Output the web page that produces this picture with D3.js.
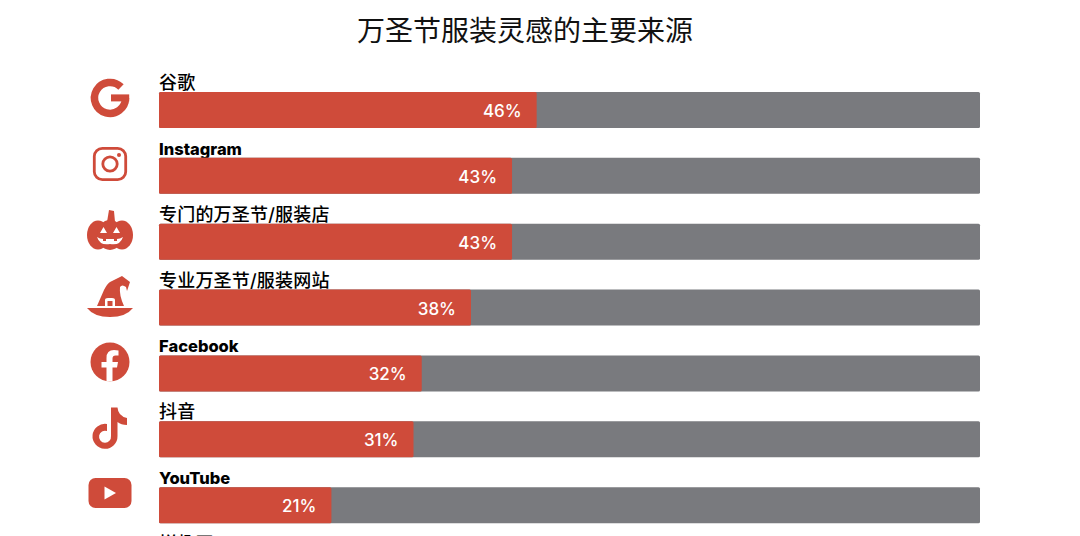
<!DOCTYPE html>
<html>
<head>
<meta charset="utf-8">
<script src="https://cdn.jsdelivr.net/npm/d3@7"></script>
<style>
  html, body { margin: 0; padding: 0; background: #fff; overflow: hidden; }
  svg { display: block; }
  text { font-family: Inter, "Noto Sans CJK SC", sans-serif; }
</style>
</head>
<body>
<svg id="chart" width="1080" height="536"></svg>
<script>
const title = '万圣节服装灵感的主要来源';
const categories = ['谷歌', 'Instagram', '专门的万圣节/服装店', '专业万圣节/服装网站', 'Facebook', '抖音', 'YouTube', '拼趣网'];
// the eighth row runs off the bottom of the picture, only the top of its label shows
const values = [46, 43, 43, 38, 32, 31, 21];
const icons = ['google', 'instagram', 'pumpkin', 'hat', 'facebook', 'tiktok', 'youtube'];

const red = '#cf4b3a';
const grey = '#797a7e';

const svg = d3.select('#chart');

const x = d3.scaleLinear().domain([0, 100]).range([159, 980]);
const y = d3.scaleBand().domain(categories).range([92, 589]).paddingInner(0.4534).paddingOuter(0);
const isCjk = d => /[\u4e00-\u9fff]/.test(d);

svg.append('text')
  .attr('x', 525).attr('y', 41)
  .attr('text-anchor', 'middle')
  .attr('font-family', '"Noto Sans CJK SC", sans-serif')
  .attr('font-size', 28)
  .attr('fill', '#111')
  .text(title);

svg.selectAll('text.label')
  .data(categories)
  .enter().append('text')
  .attr('class', 'label')
  .attr('x', x(0)).attr('y', d => y(d) - 3)
  .attr('font-family', d => isCjk(d) ? '"Noto Sans CJK SC", sans-serif' : 'Inter, sans-serif')
  .attr('font-size', d => isCjk(d) ? 18 : 16.5)
  .attr('font-weight', d => isCjk(d) ? 500 : 800)
  .attr('letter-spacing', d => isCjk(d) ? 0.2 : 0)
  .attr('fill', '#000')
  .text(d => d);

const bars = values.map((v, i) => ({ name: categories[i], value: v }));

svg.selectAll('rect.track')
  .data(bars)
  .enter().append('rect')
  .attr('class', 'track')
  .attr('x', x(0)).attr('y', d => y(d.name))
  .attr('width', x(100) - x(0)).attr('height', y.bandwidth())
  .attr('rx', 1.5)
  .attr('fill', grey);

svg.selectAll('rect.bar')
  .data(bars)
  .enter().append('rect')
  .attr('class', 'bar')
  .attr('x', x(0)).attr('y', d => y(d.name))
  .attr('width', d => x(d.value) - x(0)).attr('height', y.bandwidth())
  .attr('rx', 1.5)
  .attr('fill', red);

svg.selectAll('text.value')
  .data(bars)
  .enter().append('text')
  .attr('class', 'value')
  .attr('x', d => x(d.value) - 15)
  .attr('y', d => y(d.name) + y.bandwidth() / 2 + 7)
  .attr('text-anchor', 'end')
  .attr('font-size', 17)
  .attr('font-weight', 500)
  .attr('fill', '#fff')
  .text(d => d.value + '%');

// icons, each drawn around its own centre
const drawIcon = {
  google(g) {
    g.append('path').attr('fill', 'none').attr('stroke', red).attr('stroke-width', 7.5)
      .attr('d', 'M11 -11 A15.5 15.5 0 1 0 15.5 0');
    g.append('rect').attr('x', 1).attr('y', -3.6).attr('width', 18.2).attr('height', 7).attr('fill', red);
  },
  instagram(g) {
    g.append('rect').attr('x', -15.7).attr('y', -15.7).attr('width', 31.4).attr('height', 31.4).attr('rx', 8)
      .attr('fill', 'none').attr('stroke', red).attr('stroke-width', 2.8);
    g.append('circle').attr('r', 7.2).attr('fill', 'none').attr('stroke', red).attr('stroke-width', 2.8);
    g.append('circle').attr('cx', 9).attr('cy', -9).attr('r', 2).attr('fill', red);
  },
  pumpkin(g) {
    g.append('path').attr('fill', red).attr('d', 'M-3 -13 L-1 -25 L4 -24 L5 -13Z');
    g.append('ellipse').attr('cx', -12).attr('rx', 11).attr('ry', 14.5).attr('fill', red);
    g.append('ellipse').attr('cx', 12).attr('rx', 11).attr('ry', 14.5).attr('fill', red);
    g.append('ellipse').attr('rx', 13).attr('ry', 15).attr('fill', red);
    g.append('path').attr('fill', '#fff').attr('d', 'M-10 -2 L-6.5 -8 L-3 -2Z M3 -2 L6.5 -8 L10 -2Z');
    g.append('path').attr('fill', '#fff').attr('d', 'M-13 2 Q-10 4 -7 4 L-7 6 L-4 6 L-4 4 L4 4 L4 6 L7 6 L7 4 Q10 4 13 2 Q10 11 0 9 Q-10 11 -13 2Z');
  },
  hat(g) {
    g.append('path').attr('fill', red)
      .attr('d', 'M-13 9 L-6 -7 Q-3 -13 0 -15 L12 -21 L20 -15 L17 -6 L16 -10 Q12 -13 10 -10 Q9 -2 14 9Z');
    g.append('path').attr('fill', red).attr('d', 'M-23 11 L23 11 Q16 20 0 20 Q-16 20 -23 11Z');
    g.append('path').attr('fill', '#fff').attr('d', 'M-5 9 L-5 3 Q-5 1 -2 1 L2 1 Q5 1 5 3 L5 9 L2.5 9 L2.5 4 L-2.5 4 L-2.5 9Z');
  },
  facebook(g) {
    g.append('circle').attr('r', 19.5).attr('fill', red);
    g.append('path').attr('fill', '#fff')
      .attr('d', 'M-3.5 19.5 L-3.5 5.5 L-8.5 5.5 L-8.5 0 L-3.5 0 L-3.5 -4 Q-3.5 -12 4 -12 L8.5 -11.6 L8.5 -6.5 L5.5 -6.5 Q2.5 -6.5 2.5 -3.5 L2.5 0 L8 0 L7 5.5 L2.5 5.5 L2.5 19.5Z');
  },
  tiktok(g) {
    g.append('path').attr('fill', red)
      .attr('d', 'M1 -20.5 L7.5 -20.5 Q8 -12 17 -10 L17 -3 Q11 -3 7.5 -6 L7.5 8 A12.5 12.5 0 1 1 -3 -4 L-3 3 A6 6 0 1 0 1 8Z');
  },
  youtube(g) {
    g.append('rect').attr('x', -21.5).attr('y', -15).attr('width', 43).attr('height', 30).attr('rx', 7).attr('fill', red);
    g.append('path').attr('fill', '#fff').attr('d', 'M-5.5 -6.5 L6 0 L-5.5 6.5Z');
  }
};

const iconCenters = [[110, 98], [110, 164], [110, 235], [110, 297], [110, 362], [110, 428], [110, 493]];

svg.selectAll('g.icon')
  .data(icons)
  .enter().append('g')
  .attr('class', 'icon')
  .attr('transform', (d, i) => `translate(${iconCenters[i][0]},${iconCenters[i][1]})`)
  .each(function (d) { drawIcon[d](d3.select(this)); });
</script>
</body>
</html>
